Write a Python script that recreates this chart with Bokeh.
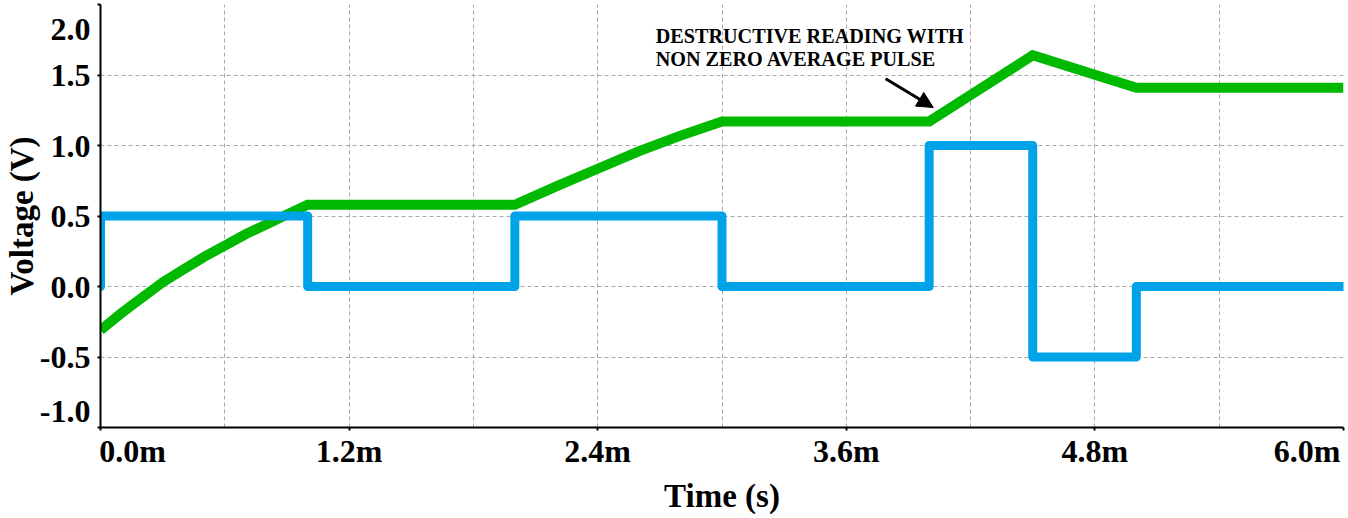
from bokeh.plotting import figure
from bokeh.models import (FixedTicker, CustomJSTickFormatter, Label, Arrow,
                          NormalHead, Range1d)
from bokeh.embed import file_html
from bokeh.resources import INLINE

# ---- data (time in ms, voltage in V) ----
blue_t = [0, 0, 1.0, 1.0, 2.0, 2.0, 3.0, 3.0, 4.0, 4.0, 4.5, 4.5, 5.0, 5.0, 6.0]
blue_v = [0, 0.5, 0.5, 0, 0, 0.5, 0.5, 0, 0, 1.0, 1.0, -0.5, -0.5, 0, 0]

green_t = [0, 0.1, 0.2, 0.3, 0.4, 0.5, 0.6, 0.7, 0.8, 0.9, 1.0,
           2.0, 2.2, 2.4, 2.6, 2.8, 3.0, 4.0, 4.5, 5.0, 6.0]
green_v = [-0.31, -0.19, -0.08, 0.03, 0.12, 0.21, 0.29, 0.37, 0.44, 0.51, 0.58,
           0.58, 0.71, 0.835, 0.96, 1.07, 1.17, 1.17, 1.64, 1.41, 1.41]

x_ticks = [0.0, 1.2, 2.4, 3.6, 4.8, 6.0]
x_labels = ["0.0m", "1.2m", "2.4m", "3.6m", "4.8m", "6.0m"]
x_minor = [0.6, 1.8, 3.0, 4.2, 5.4]
y_ticks = [-1.0, -0.5, 0.0, 0.5, 1.0, 1.5, 2.0]
y_labels = ["-1.0", "-0.5", "0.0", "0.5", "1.0", "1.5", "2.0"]

annotation_lines = ["DESTRUCTIVE READING WITH", "NON ZERO AVERAGE PULSE"]

FONT = "Liberation Serif"
GRID = "#a8a8a8"
BLUE = "#00A2E8"
GREEN = "#00B900"
NB = "\u00a0"

# end labels are nudged inward (as in the original) with padding
x_disp = list(x_labels)
x_disp[0] = NB * 8 + x_disp[0]
x_disp[-1] = x_disp[-1] + NB
y_disp = list(y_labels)
y_disp[-1] = NB + "\n" + y_disp[-1]
y_disp[0] = y_disp[0] + ("\n" + NB) * 3

LOOKUP = """
for (let i = 0; i < tick_vals.length; i++) {
  if (Math.abs(tick_vals[i] - tick) < 1e-9) return tick_labels[i];
}
return tick.toFixed(1);
"""

p = figure(width=1348, height=518, output_backend="svg", toolbar_location=None,
           x_range=Range1d(x_ticks[0], x_ticks[-1]),
           y_range=Range1d(y_ticks[0], y_ticks[-1]),
           min_border_left=100, min_border_right=5, min_border_top=4,
           min_border_bottom=91)
p.outline_line_color = None
p.background_fill_color = "white"
p.border_fill_color = "white"

# axes
p.xaxis.ticker = FixedTicker(ticks=x_ticks, minor_ticks=x_minor)
p.yaxis.ticker = FixedTicker(ticks=y_ticks)
p.xaxis.formatter = CustomJSTickFormatter(
    args=dict(tick_vals=x_ticks, tick_labels=x_disp), code=LOOKUP)
p.yaxis.formatter = CustomJSTickFormatter(
    args=dict(tick_vals=y_ticks, tick_labels=y_disp), code=LOOKUP)
for ax in (p.xaxis[0], p.yaxis[0]):
    ax.axis_line_color = "black"
    ax.axis_line_width = 2
    ax.major_tick_line_color = "black"
    ax.major_tick_line_width = 2
    ax.major_tick_out = 3
    ax.major_tick_in = 0
    ax.minor_tick_line_color = None
    ax.major_label_text_font = FONT
    ax.major_label_text_font_style = "bold"
    ax.major_label_text_font_size = "32px"
    ax.major_label_text_color = "black"
    ax.axis_label_text_font = FONT
    ax.axis_label_text_font_style = "bold"
    ax.axis_label_text_font_size = "33px"
    ax.axis_label_text_color = "black"
p.yaxis.major_label_text_line_height = 0.3
p.xaxis.axis_label = "Time (s)"
p.yaxis.axis_label = "Voltage (V)"
p.xaxis.major_label_standoff = 1
p.xaxis.axis_label_standoff = 6
p.yaxis.major_label_standoff = 7
p.yaxis.axis_label_standoff = -3

# grid
for g in (p.xgrid[0], p.ygrid[0]):
    g.grid_line_color = GRID
    g.grid_line_dash = "4 3"
    g.grid_line_width = 1
p.xgrid.minor_grid_line_color = GRID
p.xgrid.minor_grid_line_dash = "4 3"

# series
p.line(green_t, green_v, line_color=GREEN, line_width=10, line_join="miter",
       line_cap="butt")
p.line(blue_t, blue_v, line_color=BLUE, line_width=9, line_join="round",
       line_cap="round")

# annotation
ann_kw = dict(text_font=FONT, text_font_style="bold", text_font_size="20.2px",
              text_color="black", text_align="left", text_baseline="alphabetic")
p.add_layout(Label(x=2.68, y=1.78, text=annotation_lines[0], **ann_kw))
p.add_layout(Label(x=2.68, y=1.61, text=annotation_lines[1], **ann_kw))
p.add_layout(Arrow(end=NormalHead(size=16, fill_color="black", line_color="black"),
                   x_start=3.79, y_start=1.474, x_end=4.02, y_end=1.269,
                   line_color="black", line_width=3))

open("out.html", "w").write(file_html(p, INLINE))
